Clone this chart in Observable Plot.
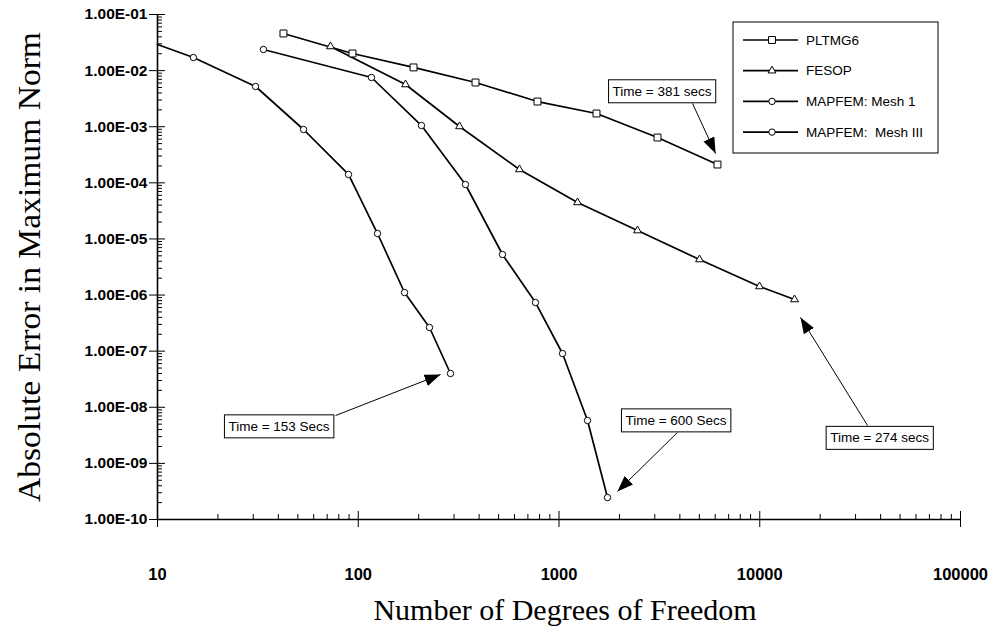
<!DOCTYPE html>
<html><head><meta charset="utf-8">
<script src="https://cdn.jsdelivr.net/npm/d3@7"></script>
<script src="https://cdn.jsdelivr.net/npm/@observablehq/plot@0.6"></script>
<style>body{margin:0;background:#fff} #chart{width:992px;height:642px}</style>
</head><body><div id="chart"></div>
<script>
// ---- data ----
const seriesNames = ["PLTMG6", "FESOP", "MAPFEM: Mesh 1", "MAPFEM:  Mesh III"];
const seriesSymbols = ["square", "triangle", "circle", "circle"];

const pltmgDof = [42.4, 93.6, 188.5, 383.8, 781.4, 1537.5, 3095, 6158];
const pltmgErr = [4.59e-2, 2.02e-2, 1.14e-2, 6.14e-3, 2.81e-3, 1.72e-3, 6.42e-4, 2.12e-4];

const fesopDof = [72.7, 172, 319.5, 635.6, 1237, 2460, 5011, 9972, 14900];
const fesopErr = [2.69e-2, 5.65e-3, 1.01e-3, 1.73e-4, 4.46e-5, 1.41e-5, 4.30e-6, 1.42e-6, 8.33e-7];

const mesh1Dof = [10, 15.1, 30.8, 53.4, 89.4, 124.7, 170, 226.4, 288.1];
const mesh1Err = [2.92e-2, 1.71e-2, 5.21e-3, 8.92e-4, 1.41e-4, 1.25e-5, 1.11e-6, 2.64e-7, 4.0e-8];

const mesh3Dof = [33.7, 116.4, 206.6, 342, 523, 763.7, 1041, 1387, 1744];
const mesh3Err = [2.38e-2, 7.54e-3, 1.05e-3, 9.34e-5, 5.28e-6, 7.36e-7, 9.08e-8, 5.81e-9, 2.46e-10];

const xTicks = [10, 100, 1000, 10000, 100000];
const xTickLabels = ["10", "100", "1000", "10000", "100000"];
const yTicks = [1e-10, 1e-9, 1e-8, 1e-7, 1e-6, 1e-5, 1e-4, 1e-3, 1e-2, 1e-1];
const yTickLabels = ["1.00E-10", "1.00E-09", "1.00E-08", "1.00E-07", "1.00E-06", "1.00E-05", "1.00E-04", "1.00E-03", "1.00E-02", "1.00E-01"];

const annotLabels = ["Time = 381 secs", "Time = 153 Secs", "Time = 600 Secs", "Time = 274 secs"];
const annotTextDof = [3260, 40.3, 3828, 39540];
const annotTextErr = [4.25e-3, 4.54e-9, 5.8e-9, 2.83e-9];
const annotFromDof = [4624, 77.1, 3890, 34440];
const annotFromErr = [2.6e-3, 7.13e-9, 3.55e-9, 4.73e-9];
const annotTipDof = [6026, 257, 1955, 15960];
const annotTipErr = [3.33e-4, 3.84e-8, 3.16e-10, 3.98e-7];

const xTitle = "Number of Degrees of Freedom";
const yTitle = "Absolute Error in Maximum Norm";

// ---- tables built from the arrays ----
const seriesDof = [pltmgDof, fesopDof, mesh1Dof, mesh3Dof];
const seriesErr = [pltmgErr, fesopErr, mesh1Err, mesh3Err];
const rows = seriesNames.flatMap((s, k) => seriesDof[k].map((d, i) => ({series: s, dof: d, err: seriesErr[k][i]})));
const annots = annotLabels.map((label, i) => ({
  label, tx: annotTextDof[i], ty: annotTextErr[i],
  fx: annotFromDof[i], fy: annotFromErr[i], px: annotTipDof[i], py: annotTipErr[i]
}));

const yMinor = [];
for (let e = -10; e < -1; e++) for (let k = 2; k <= 9; k++) yMinor.push(k * Math.pow(10, e));
const xMinor = [];
for (let e = 1; e < 5; e++) for (let k = 2; k <= 9; k++) xMinor.push(k * Math.pow(10, e));

const symR = {square: 3.9, triangle: 2.9, circle: 3.2};
const sansFont = "'Liberation Sans', Arial, Helvetica, sans-serif";
const serifFont = "'Liberation Serif', 'Times New Roman', serif";

const dotMarks = seriesNames.map((s, k) =>
  Plot.dot(rows.filter(d => d.series === s && d.dof > 10), {
    x: "dof", y: "err", symbol: seriesSymbols[k], r: symR[seriesSymbols[k]],
    fill: "white", stroke: "black", strokeWidth: 1
  }));

const svg = Plot.plot({
  width: 992, height: 642,
  marginLeft: 157, marginRight: 32, marginTop: 14, marginBottom: 123,
  style: {fontFamily: sansFont, background: "white", color: "black"},
  x: {type: "log", domain: [10, 100000]},
  y: {type: "log", domain: [1e-10, 1e-1]},
  marks: [
    Plot.line(rows, {x: "dof", y: "err", z: "series", stroke: "black", strokeWidth: 1.7}),
    ...dotMarks,
    Plot.ruleX([10], {stroke: "black", strokeWidth: 1.6}),
    Plot.ruleY([1e-10], {stroke: "black", strokeWidth: 1.6}),
    // y ticks
    Plot.axisY({ticks: yTicks, tickSize: 8, tickPadding: 2, label: null, fontSize: 15.5, fontWeight: "bold",
      tickFormat: d => yTickLabels[yTicks.indexOf(d)]}),
    Plot.axisY({ticks: yTicks, tickSize: 8, dx: 8, fill: "none", label: null}),
    Plot.axisY({ticks: yMinor, tickSize: 5, dx: 5, fill: "none", label: null}),
    // x ticks
    Plot.axisX({ticks: xTicks, tickSize: 8, fill: "none", label: null}),
    Plot.axisX({ticks: xTicks, tickSize: 8, dy: -8, fill: "none", label: null}),
    Plot.axisX({ticks: xMinor, tickSize: 5, dy: -5, fill: "none", label: null}),
    Plot.axisX({ticks: xTicks, tickSize: 0, tickPadding: 49, label: null, fontSize: 16.5, fontWeight: "bold",
      tickFormat: d => xTickLabels[xTicks.indexOf(d)]}),
    // titles
    Plot.text([xTitle], {text: d => d, frameAnchor: "bottom", lineAnchor: "middle", dy: 91, dx: 6,
      fontFamily: serifFont, fontSize: 30}),
    Plot.text([yTitle], {text: d => d, frameAnchor: "left", textAnchor: "middle", lineAnchor: "middle",
      dx: -127, rotate: -90, fontFamily: serifFont, fontSize: 31, ariaDescription: "y-title"}),
    // annotations
    Plot.link(annots, {x1: "fx", y1: "fy", x2: "px", y2: "py", stroke: "black", strokeWidth: 1, ariaDescription: "annot-arrow"}),
    Plot.text(annots, {x: "tx", y: "ty", text: "label", fontSize: 13.5, fontFamily: sansFont, fill: "black", ariaDescription: "annot-text"})
  ]
});

document.getElementById("chart").appendChild(svg);
const S = d3.select(svg);

// stretch the y title to the reference's length
S.selectAll('g[aria-description="y-title"] text').attr("textLength", 470).attr("lengthAdjust", "spacingAndGlyphs");

// filled arrowheads
const defs = S.insert("defs", ":first-child");
defs.append("marker").attr("id", "fhead").attr("viewBox", "0 0 16 12")
  .attr("refX", 16).attr("refY", 6).attr("markerWidth", 16).attr("markerHeight", 12)
  .attr("markerUnits", "userSpaceOnUse").attr("orient", "auto")
  .append("path").attr("d", "M0,0 L16,6 L0,12 Z").attr("fill", "black");
S.selectAll('g[aria-description="annot-arrow"] path, g[aria-description="annot-arrow"] line').attr("marker-end", "url(#fhead)");

// boxes behind annotation texts
const sr = svg.getBoundingClientRect();
const tg = S.select('g[aria-description="annot-text"]');
if (!tg.empty()) {
  const boxG = document.createElementNS("http://www.w3.org/2000/svg", "g");
  tg.node().parentNode.insertBefore(boxG, tg.node());
  tg.selectAll("text").each(function () {
    const r = this.getBoundingClientRect();
    d3.select(boxG).append("rect")
      .attr("x", r.left - sr.left - 4).attr("y", r.top - sr.top - 4)
      .attr("width", r.width + 8).attr("height", r.height + 8)
      .attr("fill", "white").attr("stroke", "black").attr("stroke-width", 1);
  });
}

// legend
const lg = S.append("g").attr("aria-label", "legend");
lg.append("rect").attr("x", 733).attr("y", 22).attr("width", 205).attr("height", 131)
  .attr("fill", "white").attr("stroke", "black").attr("stroke-width", 1);
const legendSym = {square: d3.symbolSquare, triangle: d3.symbolTriangle, circle: d3.symbolCircle};
seriesNames.forEach((s, k) => {
  const y = 40 + k * 30.7;
  lg.append("line").attr("x1", 743).attr("x2", 798).attr("y1", y).attr("y2", y)
    .attr("stroke", "black").attr("stroke-width", 1.7);
  const sym = seriesSymbols[k], r = symR[sym];
  lg.append("path").attr("transform", `translate(772,${y})`)
    .attr("d", d3.symbol(legendSym[sym], r * r * Math.PI)())
    .attr("fill", "white").attr("stroke", "black").attr("stroke-width", 1);
  lg.append("text").attr("x", 806).attr("y", y).attr("dy", "0.35em").attr("text-anchor", "start")
    .attr("font-size", 13.5).attr("font-family", sansFont).text(s).style("white-space", "pre");
});
</script>
</body></html>
